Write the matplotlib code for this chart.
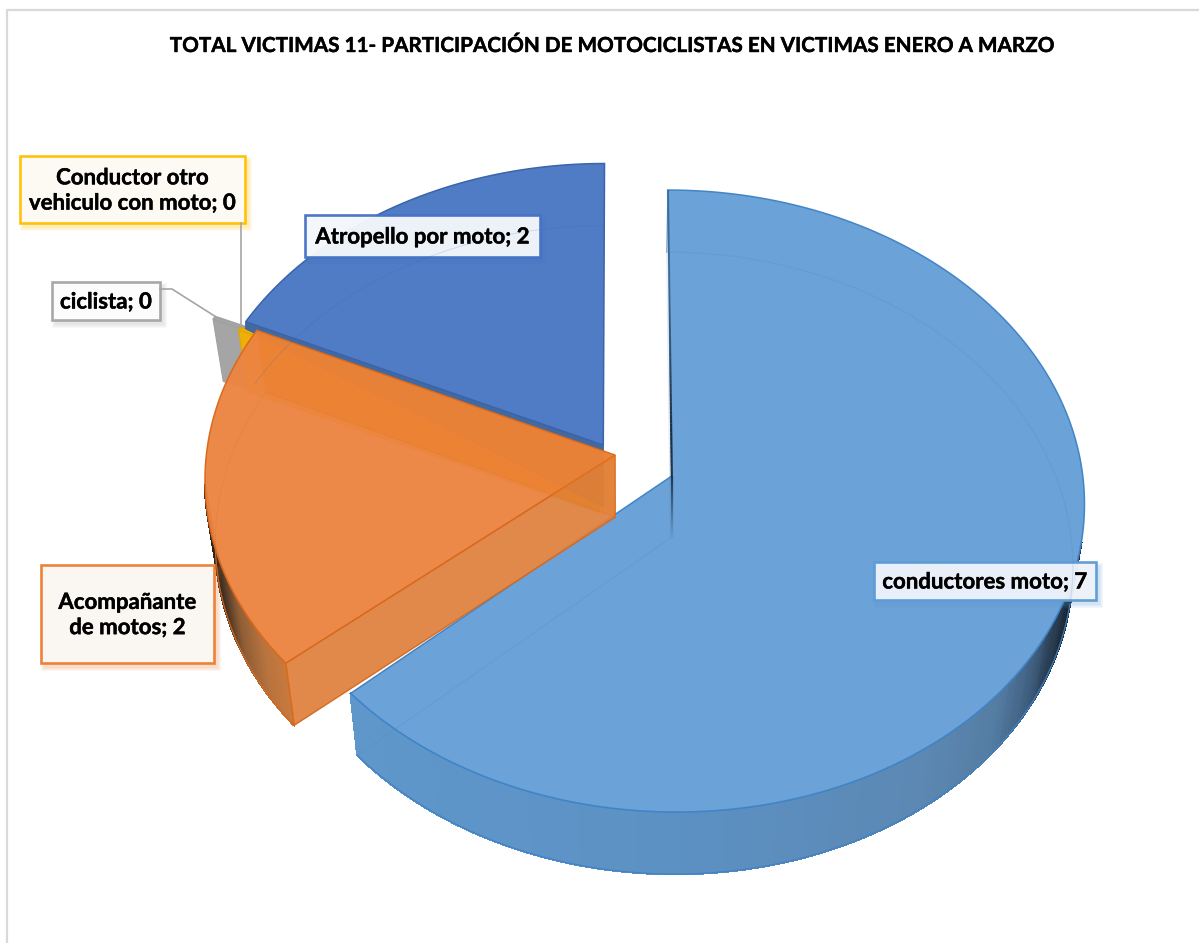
import matplotlib
matplotlib.use("Agg")
import matplotlib.pyplot as plt
import matplotlib.patheffects as pe
from matplotlib.collections import PolyCollection, LineCollection
from matplotlib.colors import LinearSegmentedColormap
from matplotlib.patches import Polygon, Rectangle
import numpy as np

# Data, clockwise from 12 o'clock (the two zero slices are tiny slivers in the picture)
categories = ["conductores moto", "Acompañante\nde motos", "ciclista",
              "Conductor otro\nvehiculo con moto", "Atropello por moto"]
values = [7, 2, 0.02, 0.02, 2]
title = "TOTAL VICTIMAS 11- PARTICIPACIÓN DE MOTOCICLISTAS EN VICTIMAS ENERO A MARZO"

# Style per slice
face_colors = ["#669fd6", "#ec8542", "#a5a5a5", "#eeb008", "#507cc5"]
edge_colors = ["#3f83c6", "#d9681c", "#a0a0a0", "#e0a800", "#3a64ab"]
wall_shades = [[(0, "#1c2835"), (0.05, "#3f5f80"), (0.1, "#557da3"), (0.2, "#5c88b3"),
                (0.5, "#5c90c2"), (1, "#5f97cb")],
               [(0, "#2e2820"), (0.1, "#4a3525"), (0.3, "#8f5e35"), (0.58, "#b8733e"),
                (0.84, "#c97a3e"), (1, "#cf8048")]]
# Explosion of each slice on the pie plane, and small turn of a slice
explode_x = [0.126, -0.012, -0.115, -0.052, -0.041]
explode_y = [0.0, 0.068, 0.13, 0.082, 0.101]
slice_turn = [0, 1.5, 0, 0, 0]
draw_order = [2, 3, 4, 0, 1]

# Label boxes: left, top, right, bottom in pixels
label_boxes = [(874, 562, 1096, 600), (41, 565, 214, 663), (52, 282, 160, 320),
               (20, 156, 245, 223), (305, 215, 540, 257)]
label_faces = ["#eff3fa", "#fbf8f4", "#fdfdfd", "#fcfbf6", "#f5f8fc"]
label_edges = ["#5b9bd5", "#ed7d31", "#a5a5a5", "#ffc000", "#4472c4"]

# Projection of the pie plane
PX, PY = 620, 476
A, B, K = 411, 309, 0.0806
DROP = 62
SHRINK = 0.975

FONT = "Lato"
BOLDER = [pe.withStroke(linewidth=0.3, foreground="black")]


def project(x, y, lower=False):
    w = 1 + K * y
    sx = A * x / w
    sy = PY - B * y / w
    if lower:
        return PX + sx * SHRINK, sy + DROP
    return PX + sx, sy


def arc(ox, oy, a1, a2, n=240):
    t = np.radians(np.linspace(a1, a2, n))
    return ox + np.sin(t), oy + np.cos(t), np.linspace(a1, a2, n)


def draw_slice(ax, i, a1, a2):
    ox, oy = explode_x[i], explode_y[i]
    ax_, ay_, th = arc(ox, oy, a1 + slice_turn[i], a2 + slice_turn[i])
    tx, ty = project(ax_, ay_)
    bx, by = project(ax_, ay_, lower=True)
    ctx, cty = project(ox, oy)
    cbx, cby = project(ox, oy, lower=True)

    # radial walls first
    if i >= 2:
        if i == 4:
            # blue wall only shows as a thin strip above the orange slice
            wall = [(ctx, cty), (tx[0], ty[0]), (tx[0], ty[0] + 7), (cbx, cby)]
        else:
            wall = [(ctx, cty), (tx[0], ty[0]), (bx[0], by[0]), (cbx, cby)]
        ax.add_patch(Polygon(wall, closed=True, facecolor=face_colors[i] if i < 4 else "#44699f",
                             edgecolor=edge_colors[i], linewidth=0.8))

    # outer wall, shaded along the screen x (only the part the viewer sees)
    if i < 2:
        cmap = LinearSegmentedColormap.from_list("wall", wall_shades[i])
        quads = []
        cols = []
        xmin, xmax = (1072, 352) if i == 0 else (208, 300)
        limit = -0.2 if i == 0 else -0.1
        for j in range(len(th) - 1):
            if np.cos(np.radians(th[j])) > limit:
                continue
            quads.append([(tx[j], ty[j]), (tx[j + 1], ty[j + 1]), (bx[j + 1], by[j + 1]), (bx[j], by[j])])
            cols.append(cmap(np.clip((tx[j] - xmin) / (xmax - xmin), 0, 1)))
        ax.add_collection(PolyCollection(quads, facecolors=cols, edgecolors=cols, linewidths=1.0,
                                         antialiaseds=False))
        mask = np.cos(np.radians(th)) <= limit
        ax.plot(bx[mask], by[mask], color=edge_colors[i], lw=0.9, alpha=0.9)
        if i == 0:
            ax.plot([tx[0], bx[0]], [ty[0], by[0]], color=edge_colors[i], lw=0.9, alpha=0.7)

    # top face
    ax.add_patch(Polygon(np.c_[np.r_[ctx, tx], np.r_[cty, ty]], closed=True,
                         facecolor=face_colors[i], alpha=0.97 if i < 2 else 1.0,
                         edgecolor=edge_colors[i], linewidth=1.1))

    # lower outline seen through the face
    if i in (0, 1):
        ax.plot(np.r_[cbx, bx, cbx], np.r_[cby, by, cby], color=edge_colors[i], lw=0.8, alpha=0.16)
    if i == 4:
        ax.plot(bx, by, color=edge_colors[i], lw=0.8, alpha=0.16)

    if i == 1:
        # front radial wall of the orange slice is solid, back one only a tint
        front = [(ctx, cty), (tx[0], ty[0]), (bx[0], by[0]), (cbx, cby)]
        ax.add_patch(Polygon(front, closed=True, facecolor="#de8240", alpha=0.94,
                             edgecolor=edge_colors[i], linewidth=1.0))
        back = [(ctx, cty), (tx[-1], ty[-1]), (bx[-1], by[-1]), (cbx, cby)]
        ax.add_patch(Polygon(back, closed=True, facecolor="#ea7c20", alpha=0.35, edgecolor="none"))


def draw_dark_edge(ax):
    # first slice's wall at 12 o'clock is seen edge on, it shows as a dark line
    ox, oy = explode_x[0], explode_y[0]
    x0, y0 = project(ox, oy + 1)
    x1, y1 = project(ox, oy)
    y2 = y1 + DROP
    ys = np.linspace(y0, y2, 80)
    xs = np.interp(ys, [y0, y1, y2], [x0, x1, x1])
    segs = [[(xs[j], ys[j]), (xs[j + 1], ys[j + 1])] for j in range(len(ys) - 1)]
    alphas = np.interp(ys[:-1], [y0, 300, 430, 475, y2], [0.25, 0.35, 0.95, 0.9, 0.0])
    cols = [(0.10, 0.16, 0.23, a) for a in alphas]
    ax.add_collection(LineCollection(segs, colors=cols, linewidths=1.6))


def draw_label(ax, i):
    left, top, right, bottom = label_boxes[i]
    w, h = right - left, bottom - top
    for grow in (7, 5, 3, 1):
        ax.add_patch(Rectangle((left + 3 - grow / 2, top + 4 - grow / 2), w + grow, h + grow,
                               facecolor=label_edges[i], edgecolor="none", alpha=0.07))
    ax.add_patch(Rectangle((left, top), w, h, facecolor=label_faces[i], alpha=0.96,
                           edgecolor=label_edges[i], linewidth=1.9))
    text = "%s; %.0f" % (categories[i], values[i])
    ax.text((left + right) / 2, (top + bottom) / 2 + 1, text, ha="center", va="center",
            fontsize=16, fontweight="bold", family=FONT, color="black", linespacing=1.25,
            path_effects=BOLDER)


def main():
    fig = plt.figure(figsize=(11.99, 9.43), dpi=100)
    ax = fig.add_axes([0, 0, 1, 1])
    ax.set_xlim(0, 1199)
    ax.set_ylim(943, 0)
    ax.axis("off")

    # chart frame
    ax.plot([7, 7, 1199], [943, 10, 10], color="#d9d9d9", lw=1.6)

    ax.text(609, 46, title, ha="center", va="center", fontsize=14.9, fontweight="bold",
            family=FONT, color="black", path_effects=BOLDER)

    # slice angles from the values
    total = sum(values)
    ends = np.cumsum(values) / total * 360
    starts = np.r_[0, ends[:-1]]

    for i in draw_order:
        draw_slice(ax, i, starts[i], ends[i])
        if i == 0:
            draw_dark_edge(ax)

    # leader lines of the two zero slices
    gx, gy = project(explode_x[2] + np.sin(np.radians(ends[2])), explode_y[2] + np.cos(np.radians(ends[2])))
    yx, yy = project(explode_x[3] + np.sin(np.radians(ends[3])), explode_y[3] + np.cos(np.radians(ends[3])))
    ax.plot([label_boxes[2][2], 172, gx], [289, 289, gy], color="#a5a5a5", lw=1.2)
    ax.plot([yx, yx], [label_boxes[3][3], yy], color="#a5a5a5", lw=1.2)

    for i in range(len(categories)):
        draw_label(ax, i)

    fig.savefig("out.png", dpi=100)


if __name__ == "__main__":
    main()
